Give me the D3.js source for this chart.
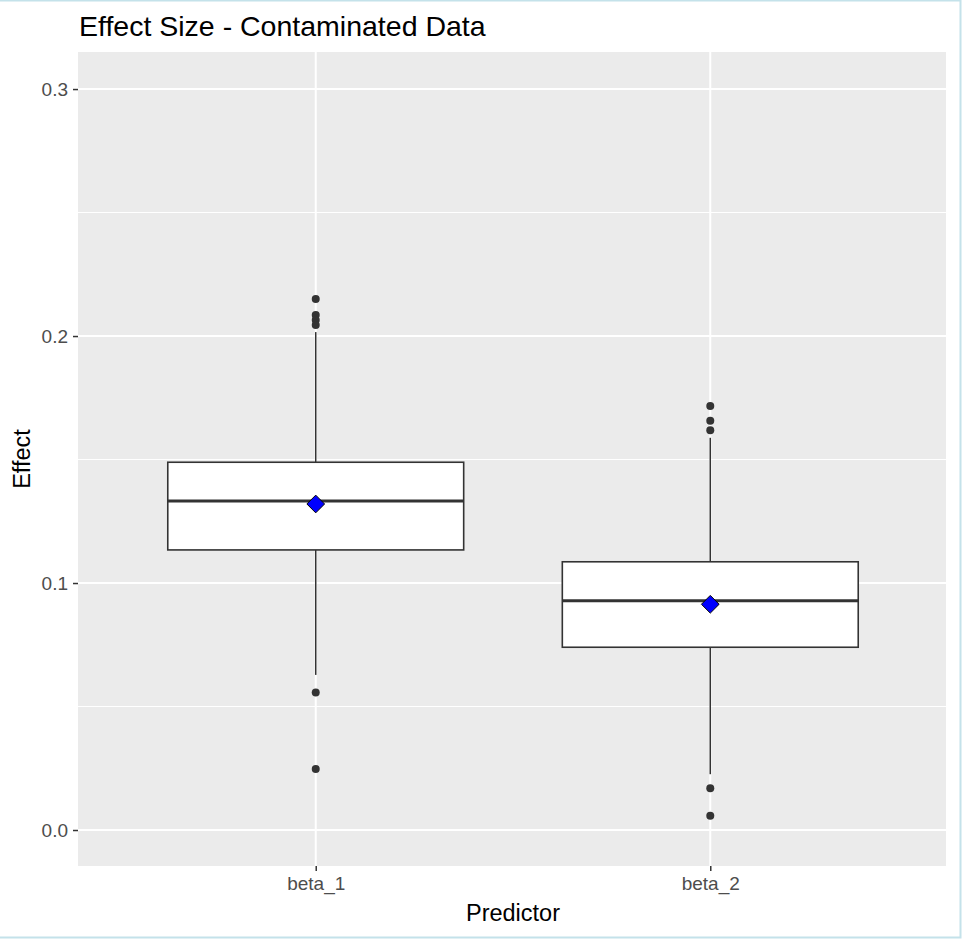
<html>
<script src='https://cdnjs.cloudflare.com/ajax/libs/d3/7.8.5/d3.min.js'></script>
<style>
body {margin:0; background:#fff;}
text {font-family: 'Liberation Sans', Arial, sans-serif;}
</style>
<body onload='init()'>
<svg width=962 height=939></svg>
<script>
var predictors = ["beta_1", "beta_2"];
var lowerWhisker = [0.0628, 0.0226];
var q1 = [0.1134, 0.0740];
var medians = [0.1332, 0.0928];
var q3 = [0.1489, 0.1086];
var upperWhisker = [0.2016, 0.1588];
var means = [0.1320, 0.0914];
var outliers = [
    [0.2150, 0.2085, 0.2065, 0.2045, 0.0557, 0.0247],
    [0.1717, 0.1657, 0.1619, 0.0169, 0.0058]
];
var yTicks = [0.0, 0.1, 0.2, 0.3];
var yMinor = [0.05, 0.15, 0.25];

function init()
{
    var svg = d3.select("svg");
    var left = 78, right = 946, top = 52, bottom = 866;

    var x = d3.scalePoint().domain(predictors).range([left + 1, right + 1]).padding(0.6);
    var y = d3.scaleLinear().domain([-0.01457, 0.315]).range([bottom, top]);
    var boxW = x.step() * 0.75;

    // light blue frame around the screenshot
    svg.append("path")
        .attr("d", "M0,0.5 H960.5 V937.5 H0")
        .attr("fill", "none").attr("stroke", "#c4e2ea").attr("stroke-width", 2);

    svg.append("rect")
        .attr("x", left).attr("y", top)
        .attr("width", right - left).attr("height", bottom - top)
        .attr("fill", "#ebebeb");

    svg.append("g").selectAll("line").data(yMinor).enter().append("line")
        .attr("x1", left).attr("x2", right)
        .attr("y1", d => y(d)).attr("y2", d => y(d))
        .attr("stroke", "#fff").attr("stroke-width", 1);

    svg.append("g").selectAll("line").data(yTicks).enter().append("line")
        .attr("x1", left).attr("x2", right)
        .attr("y1", d => y(d)).attr("y2", d => y(d))
        .attr("stroke", "#fff").attr("stroke-width", 2);

    svg.append("g").selectAll("line").data(predictors).enter().append("line")
        .attr("x1", d => x(d)).attr("x2", d => x(d))
        .attr("y1", top).attr("y2", bottom)
        .attr("stroke", "#fff").attr("stroke-width", 2);

    // axes
    var yAxis = svg.append("g")
        .attr("transform", "translate(" + left + ",0)")
        .call(d3.axisLeft(y).tickValues(yTicks).tickFormat(d3.format(".1f")).tickSize(5).tickPadding(5));
    var xAxis = svg.append("g")
        .attr("transform", "translate(0," + bottom + ")")
        .call(d3.axisBottom(x).tickSize(5).tickPadding(6));
    [yAxis, xAxis].forEach(function(a) {
        a.select(".domain").remove();
        a.selectAll(".tick line").attr("stroke", "#333").attr("stroke-width", 1.5);
        a.selectAll(".tick text").attr("fill", "#4d4d4d")
            .style("font-size", "19px").style("font-family", "'Liberation Sans', Arial, sans-serif");
    });

    var g = svg.append("g");
    predictors.forEach(function(p, i) {
        var cx = x(p);
        g.append("line")
            .attr("x1", cx).attr("x2", cx)
            .attr("y1", y(upperWhisker[i])).attr("y2", y(q3[i]))
            .attr("stroke", "#333").attr("stroke-width", 1.5);
        g.append("line")
            .attr("x1", cx).attr("x2", cx)
            .attr("y1", y(q1[i])).attr("y2", y(lowerWhisker[i]))
            .attr("stroke", "#333").attr("stroke-width", 1.5);
        g.append("rect")
            .attr("x", cx - boxW / 2).attr("width", boxW)
            .attr("y", y(q3[i])).attr("height", y(q1[i]) - y(q3[i]))
            .attr("fill", "#fff").attr("stroke", "#333").attr("stroke-width", 1.6);
        g.append("line")
            .attr("x1", cx - boxW / 2).attr("x2", cx + boxW / 2)
            .attr("y1", y(medians[i])).attr("y2", y(medians[i]))
            .attr("stroke", "#333").attr("stroke-width", 3);
        g.selectAll(null).data(outliers[i]).enter().append("circle")
            .attr("cx", cx).attr("cy", d => y(d)).attr("r", 4)
            .attr("fill", "#333");
        g.append("path")
            .attr("d", d3.symbol().type(d3.symbolDiamond2).size(200)())
            .attr("transform", "translate(" + cx + "," + y(means[i]) + ")")
            .attr("fill", "#0000ff").attr("stroke", "#000").attr("stroke-width", 1);
    });

    svg.append("text")
        .attr("x", 79).attr("y", 36)
        .style("font-size", "28.5px").attr("fill", "#000")
        .text("Effect Size - Contaminated Data");

    svg.append("text")
        .attr("x", (left + right) / 2 + 1).attr("y", 921)
        .attr("text-anchor", "middle")
        .style("font-size", "23.5px").attr("fill", "#000")
        .text("Predictor");

    svg.append("text")
        .attr("transform", "translate(30," + (top + bottom) / 2 + ") rotate(-90)")
        .attr("text-anchor", "middle")
        .style("font-size", "23.5px").attr("fill", "#000")
        .text("Effect");
}
</script>
</body>
</html>
